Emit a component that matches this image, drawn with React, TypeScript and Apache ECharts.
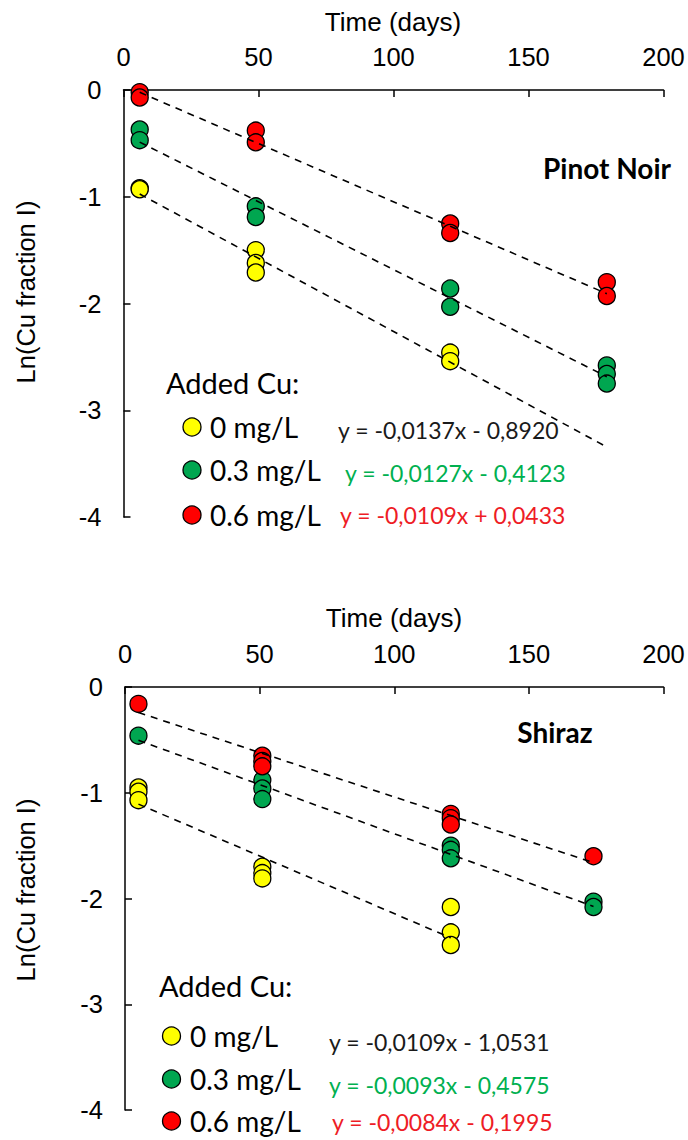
import React, { useEffect, useRef } from "react";
import * as echarts from "echarts";

// ---------- Pinot Noir (top panel) ----------
const pnYellowDays = [6, 6, 49, 49, 49, 121, 121];
const pnYellowVals = [-0.92, -0.93, -1.5, -1.62, -1.71, -2.46, -2.54];
const pnGreenDays = [6, 6, 49, 49, 121, 121, 179, 179, 179];
const pnGreenVals = [-0.37, -0.47, -1.09, -1.19, -1.86, -2.03, -2.58, -2.66, -2.75];
const pnRedDays = [6, 6, 49, 49, 121, 121, 179, 179];
const pnRedVals = [-0.02, -0.07, -0.38, -0.49, -1.25, -1.34, -1.8, -1.93];
const pnSlopes = [-0.0137, -0.0127, -0.0109];
const pnIntercepts = [-0.892, -0.4123, 0.0433];
const pnTrendFrom = [6, 6, 6];
const pnTrendTo = [179, 179, 179];
const pnEquations = ["y = -0,0137x - 0,8920", "y = -0,0127x - 0,4123", "y = -0,0109x + 0,0433"];

// ---------- Shiraz (bottom panel) ----------
const shYellowDays = [5, 5, 5, 51, 51, 51, 121, 121, 121];
const shYellowVals = [-0.95, -0.99, -1.07, -1.7, -1.76, -1.81, -2.08, -2.32, -2.44];
const shGreenDays = [5, 51, 51, 51, 121, 121, 121, 174, 174];
const shGreenVals = [-0.46, -0.88, -0.96, -1.06, -1.5, -1.54, -1.62, -2.03, -2.08];
const shRedDays = [5, 51, 51, 51, 121, 121, 121, 174];
const shRedVals = [-0.16, -0.65, -0.7, -0.75, -1.2, -1.24, -1.3, -1.6];
const shSlopes = [-0.0109, -0.0093, -0.0084];
const shIntercepts = [-1.0531, -0.4575, -0.1995];
const shTrendFrom = [5, 5, 5];
const shTrendTo = [121, 174, 174];
const shEquations = ["y = -0,0109x - 1,0531", "y = -0,0093x - 0,4575", "y = -0,0084x - 0,1995"];

const groupLabels = ["0 mg/L", "0.3 mg/L", "0.6 mg/L"];
const xTicks = { min: 0, max: 200, interval: 50 };
const yTicks = { min: -4, max: 0, interval: 1 };

const COLORS = ["#FFFF00", "#00A650", "#FF0000"];
const EQ_COLORS = ["#1a1a1a", "#00B050", "#EE1C25"];
const AXIS_FONT = '"Liberation Sans", Arial, sans-serif';
const LEG_FONT = "Lato, sans-serif";

const pairs = (d: number[], v: number[]) => d.map((x, i) => [x, v[i]]);

function buildAxes(gi: number) {
  const x = {
    type: "value",
    gridIndex: gi,
    position: "top",
    min: xTicks.min,
    max: xTicks.max,
    interval: xTicks.interval,
    axisLine: { show: true, onZero: false, lineStyle: { color: "#000", width: 1.5 } },
    axisTick: { show: true, inside: true, length: 7, lineStyle: { color: "#000", width: 1.5 } },
    axisLabel: { color: "#000", fontSize: 25.5, fontFamily: AXIS_FONT, margin: 20 },
    splitLine: { show: false },
  };
  const y = {
    type: "value",
    gridIndex: gi,
    min: yTicks.min,
    max: yTicks.max,
    interval: yTicks.interval,
    axisLine: { show: true, onZero: false, lineStyle: { color: "#000", width: 1.5 } },
    axisTick: { show: true, inside: true, length: 7, lineStyle: { color: "#000", width: 1.5 } },
    axisLabel: { color: "#000", fontSize: 25.5, fontFamily: AXIS_FONT, margin: 22 },
    splitLine: { show: false },
  };
  return { x, y };
}

function panelSeries(
  gi: number,
  days: number[][],
  vals: number[][],
  slopes: number[],
  intercepts: number[],
  from: number[],
  to: number[]
) {
  const out: any[] = [];
  for (let k = 0; k < 3; k++) {
    out.push({
      type: "scatter",
      xAxisIndex: gi,
      yAxisIndex: gi,
      data: pairs(days[k], vals[k]),
      symbol: "circle",
      symbolSize: 17,
      itemStyle: { color: COLORS[k], borderColor: "#000", borderWidth: 1.3, opacity: 1 },
      z: 2,
    });
  }
  for (let k = 0; k < 3; k++) {
    out.push({
      type: "line",
      xAxisIndex: gi,
      yAxisIndex: gi,
      data: [
        [from[k], slopes[k] * from[k] + intercepts[k]],
        [to[k], slopes[k] * to[k] + intercepts[k]],
      ],
      symbol: "none",
      lineStyle: { color: "#000", width: 1.6, type: [7, 6] },
      z: 3,
    });
  }
  return out;
}

function legendGraphics(
  title: { x: number; y: number },
  dotX: number,
  rowsY: number[],
  textX: number,
  eqX: number[],
  eqY: number[],
  eqs: string[]
) {
  const g: any[] = [];
  g.push({
    type: "text",
    x: title.x,
    y: title.y,
    style: { text: "Added Cu:", fill: "#000", fontSize: 29, fontFamily: LEG_FONT, textAlign: "left", textVerticalAlign: "middle" },
  });
  for (let k = 0; k < 3; k++) {
    g.push({
      type: "circle",
      shape: { cx: dotX, cy: rowsY[k], r: 9 },
      style: { fill: COLORS[k], stroke: "#000", lineWidth: 1.3 },
    });
    g.push({
      type: "text",
      x: textX,
      y: rowsY[k],
      style: { text: groupLabels[k], fill: "#000", fontSize: 28, fontFamily: LEG_FONT, textAlign: "left", textVerticalAlign: "middle" },
    });
    g.push({
      type: "text",
      x: eqX[k],
      y: eqY[k],
      style: { text: eqs[k], fill: EQ_COLORS[k], fontSize: 23, fontFamily: LEG_FONT, textAlign: "left", textVerticalAlign: "middle" },
    });
  }
  return g;
}

export default function App() {
  const ref = useRef<HTMLDivElement>(null);
  useEffect(() => {
    if (!ref.current) return;
    const chart = echarts.init(ref.current, null, { renderer: "svg" });
    const a0 = buildAxes(0);
    const a1 = buildAxes(1);
    const textStyle = (text: string, size: number, weight = "normal", family = AXIS_FONT) => ({
      text,
      fill: "#000",
      fontSize: size,
      fontWeight: weight,
      fontFamily: family,
      textAlign: "center",
      textVerticalAlign: "middle",
    });
    const graphic: any[] = [
      { type: "text", x: 393, y: 22, style: textStyle("Time (days)", 26) },
      { type: "text", x: 394, y: 618, style: textStyle("Time (days)", 26) },
      { type: "text", x: 26, y: 292, rotation: Math.PI / 2, style: textStyle("Ln(Cu fraction I)", 25.5) },
      { type: "text", x: 26, y: 890, rotation: Math.PI / 2, style: textStyle("Ln(Cu fraction I)", 25.5) },
      { type: "text", x: 607, y: 168, style: textStyle("Pinot Noir", 28, "bold", LEG_FONT) },
      { type: "text", x: 555, y: 732, style: textStyle("Shiraz", 28, "bold", LEG_FONT) },
      ...legendGraphics({ x: 166, y: 382 }, 192, [427, 470, 515], 210, [338, 345, 340], [430, 473, 515], pnEquations),
      ...legendGraphics({ x: 159, y: 985 }, 171.5, [1036, 1079, 1121], 190, [329, 329, 332], [1042, 1085, 1122], shEquations),
    ];
    chart.setOption({
      animation: false,
      backgroundColor: "#fff",
      grid: [
        { left: 123.5, top: 90, width: 540, height: 427 },
        { left: 125, top: 687, width: 538.5, height: 423 },
      ],
      xAxis: [a0.x, a1.x],
      yAxis: [a0.y, a1.y],
      series: [
        ...panelSeries(0, [pnYellowDays, pnGreenDays, pnRedDays], [pnYellowVals, pnGreenVals, pnRedVals], pnSlopes, pnIntercepts, pnTrendFrom, pnTrendTo),
        ...panelSeries(1, [shYellowDays, shGreenDays, shRedDays], [shYellowVals, shGreenVals, shRedVals], shSlopes, shIntercepts, shTrendFrom, shTrendTo),
      ],
      graphic,
    });
    return () => chart.dispose();
  }, []);
  return <div ref={ref} style={{ position: "absolute", left: 0, top: 0, width: 688, height: 1140 }} />;
}
